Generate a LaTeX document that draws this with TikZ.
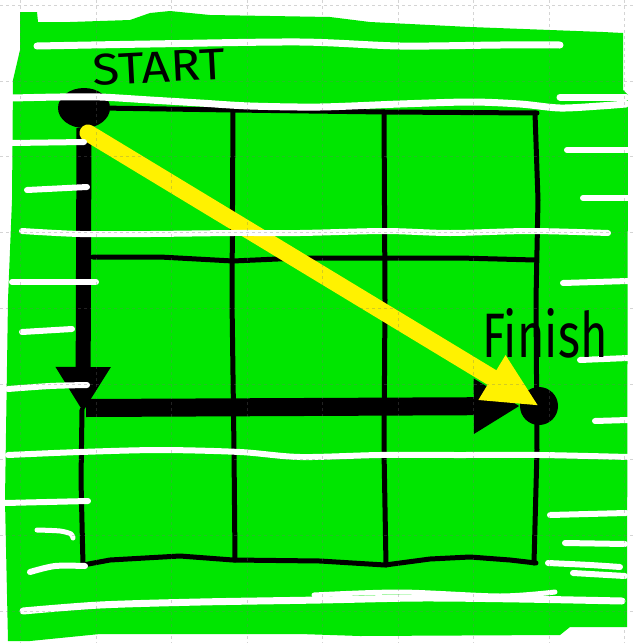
\documentclass[tikz,border=0pt]{standalone}
\usepackage{fontspec}
\usepackage{graphicx}
\newfontfamily\handfont{Fira Sans}
\usetikzlibrary{arrows.meta,shapes.geometric}
\definecolor{grass}{RGB}{0,230,0}
\definecolor{hiyellow}{RGB}{255,242,0}
\tikzset{
  gridline/.style={black, line width=5pt, line cap=round, line join=round},
  whitestroke/.style={white, line width=7pt, line cap=round, line join=round},
  routepath/.style={black},
  diagpath/.style={hiyellow, line width=17pt, line cap=round},
  dotnode/.style={fill=black, draw=none, inner sep=0pt},
  paperline/.style={black!55, opacity=0.3, line width=1pt, dash pattern=on 3pt off 3pt},
  lbltext/.style={inner sep=0pt, text=black}
}
\begin{document}
\begin{tikzpicture}[x=1pt,y=-1pt]
\useasboundingbox (0,0) rectangle (634,643);
\fill[white] (0,0) rectangle (634,643);
% green backdrop
\fill[grass] (20,12) -- (37,12) -- (38,22) -- (70,22) -- (130,20) -- (150,13) -- (170,11) -- (210,15) -- (330,17) -- (370,22) -- (470,27) -- (550,30) -- (603,32) -- (623,33) -- (623,90) -- (628,95) -- (627,627) -- (570,627) -- (560,635) -- (360,636) -- (300,634) -- (100,634) -- (30,641) -- (8,641) -- (5,500) -- (8,300) -- (12,200) -- (13,80) -- (20,50) -- cycle;
% grid
\draw[gridline] (100,108) -- (233,110) -- (385,112) -- (537,113);
\draw[gridline] (93,257) -- (160,257) -- (233,261) -- (300,258) -- (385,258) -- (460,258) -- (535,260);
\draw[gridline] (83,565) -- (110,560) -- (180,556) -- (233,560) -- (320,561) -- (385,565) -- (430,559) -- (470,557) -- (510,560) -- (536,563);
\draw[gridline] (233,110) -- (232,300) -- (234,450) -- (235,560);
\draw[gridline] (384,112) -- (385,300) -- (384,450) -- (386,565);
\draw[gridline] (535,113) -- (538,200) -- (536,300) -- (537,450) -- (534,563);
\draw[gridline] (82,410) -- (81,480) -- (83,565);
% route
\node[dotnode, ellipse, minimum width=52pt, minimum height=40pt] (start) at (84,108) {};
\node[dotnode, circle, minimum size=38pt] (finish) at (539,406) {};
\coordinate (corner) at (83,412);
\coordinate (bend) at (86,408);
\coordinate (ystart) at (88,133);
\draw[routepath, line width=15pt, -{Triangle[length=45pt,width=52pt]}] (start.south) -- (corner);
\draw[routepath, line width=18pt, -{Triangle[length=46pt,width=52pt]}] (bend) -- (finish.west);
\draw[diagpath, -{Triangle[length=55pt,width=48pt]}] (ystart) -- (finish.center);
% white strokes
\draw[whitestroke] plot[smooth] coordinates {(37,46) (150,44) (300,42) (400,46) (500,45) (560,45)};
\draw[whitestroke] plot[smooth] coordinates {(12,98) (60,97) (100,97) (150,100) (200,103) (250,106) (320,107) (400,104) (470,102) (520,104) (560,108) (600,106) (626,104)};
\draw[whitestroke] (560,97) -- (626,97);
\draw[whitestroke, line width=6pt] (12,143) -- (84,142);
\draw[whitestroke, line width=6pt] (27,190) -- (87,187);
\draw[whitestroke, line width=6pt] plot[smooth] coordinates {(22,231) (80,234) (150,234) (233,233) (300,233) (385,231) (450,233) (530,231) (608,233)};
\draw[whitestroke, line width=6pt] (12,282) -- (96,282);
\draw[whitestroke, line width=6pt] (22,332) -- (72,329);
\draw[whitestroke, line width=6pt] (567,150) -- (628,150);
\draw[whitestroke, line width=6pt] (583,198) -- (628,198);
\draw[whitestroke, line width=6pt] (563,283) -- (628,281);
\draw[whitestroke, line width=6pt] (580,360) -- (628,358);
\draw[whitestroke, line width=6pt] (595,421) -- (628,420);
\draw[whitestroke, line width=6pt] plot[smooth] coordinates {(8,389) (50,386) (87,385)};
\draw[whitestroke, line width=6pt] plot[smooth] coordinates {(8,455) (80,452) (160,450) (240,452) (300,457) (380,455) (460,455) (540,455) (628,457)};
\draw[whitestroke, line width=6pt] (5,503) -- (88,501);
\draw[whitestroke, line width=5pt] plot[smooth] coordinates {(37,530) (60,531) (71,534) (73,538)};
\draw[whitestroke, line width=6pt] plot[smooth] coordinates {(30,572) (55,566) (85,566)};
\draw[whitestroke] plot[smooth] coordinates {(23,611) (100,605) (200,602) (320,600) (420,598) (520,599) (622,601)};
\draw[whitestroke, line width=5pt] plot[smooth] coordinates {(314,595) (400,592) (500,596) (555,592)};
\draw[whitestroke, line width=6pt] (550,515) -- (626,513);
\draw[whitestroke, line width=6pt] (565,543) -- (625,544);
\draw[whitestroke, line width=6pt] plot[smooth] coordinates {(548,563) (590,565) (620,567)};
\draw[whitestroke, line width=6pt] (573,573) -- (625,576);
% graph paper
\foreach \gx in {20,96,171,247,322,398,473,549,624} \draw[paperline] (\gx,0) -- (\gx,643);
\foreach \gy in {5,81,156,232,308,384,459,535,611} \draw[paperline] (0,\gy) -- (634,\gy);
% labels
\node[lbltext, rotate=3] (startlabel) at (159,67) {\resizebox{132pt}{31pt}{\handfont START}};
\node[lbltext] (finishlabel) at (545,333) {\resizebox{125pt}{49pt}{\handfont Finish}};
\end{tikzpicture}
\end{document}
